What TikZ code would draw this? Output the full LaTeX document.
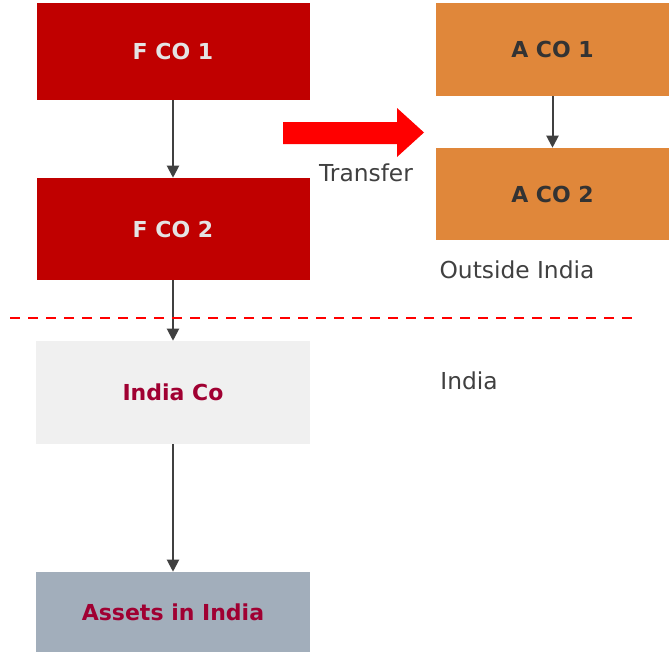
\documentclass[tikz,border=0pt]{standalone}
\usepackage{fontspec}
\setmainfont{DejaVu Sans}
\usepackage{xcolor}
\usetikzlibrary{positioning, arrows.meta}

\definecolor{fred}{HTML}{C00000}
\definecolor{aorange}{HTML}{E0873A}
\definecolor{lgray}{HTML}{F0F0F0}
\definecolor{slate}{HTML}{A2AEBB}
\definecolor{maroon}{HTML}{A00032}
\definecolor{ink}{HTML}{404040}

\begin{document}
\begin{tikzpicture}[
  x=0.75pt, y=-0.75pt,
  entity/.style={minimum width=#1*0.75pt, inner sep=0pt, font=\fontsize{16.5}{19}\selectfont\bfseries},
  link/.style={-{Triangle[length=9pt,width=9pt]}, line width=1.5pt, draw=ink},
  tag/.style={font=\fontsize{17.5}{20}\selectfont, text=ink}
]
\useasboundingbox (0,0) rectangle (669,653);

% Foreign side
\node[entity=273, minimum height=97*0.75pt, fill=fred, text=lgray!95!black] (fco1) at (173,51.5) {F CO 1};
\node[entity=273, minimum height=102*0.75pt, fill=fred, text=lgray!95!black] (fco2) at (173,229) {F CO 2};

\node[entity=233, minimum height=93*0.75pt, fill=aorange, text=black!80] (aco1) at (552.5,49.5) {A CO 1};
\node[entity=233, minimum height=92*0.75pt, fill=aorange, text=black!80] (aco2) at (552.5,194) {A CO 2};

% Indian side
\node[entity=274, minimum height=103*0.75pt, fill=lgray, text=maroon] (indco) at (173,392.5) {India Co};
\node[entity=274, minimum height=80*0.75pt, fill=slate, text=maroon] (assets) at (173,612) {Assets in India};

% Holding links
\draw[link] (fco1) -- (fco2);
\draw[link] (fco2) -- (indco);
\draw[link] (indco) -- (assets);
\draw[link] (aco1) -- (aco2);

% Transfer arrow
\fill[red] (283,122) -- (397,122) -- (397,108) -- (424,132.5) -- (397,157) -- (397,144) -- (283,144) -- cycle;
\node[tag] (transfer) at (366,173) {Transfer};

% Border
\coordinate (bl) at (10,318);
\coordinate (br) at (636,318);
\draw[red, line width=2pt, dash pattern=on 7.5pt off 6pt] (bl) -- (br);
\node[tag] (outside) at (517,270) {Outside India};
\node[tag] (india) at (469,381) {India};

\end{tikzpicture}
\end{document}
